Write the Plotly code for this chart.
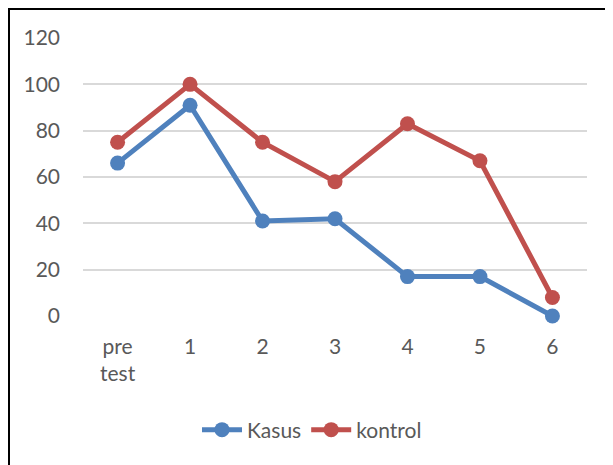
import plotly.graph_objects as go

categories = ["pre<br>test", "1", "2", "3", "4", "5", "6"]
kasus = [66, 91, 41, 42, 17, 17, 0]
kontrol = [75, 100, 75, 58, 83, 67, 8]
y_ticks = [0, 20, 40, 60, 80, 100, 120]

BLUE = "#4F81BD"
RED = "#C0504D"
FONT = "Lato"
TXT = "#595959"
FS = 21

OFF = 8  # page body margin
W, H = 613 - OFF, 465 - OFF
L, R, T, B = 83 - OFF, 587 - OFF, 38 - OFF, 316 - OFF

fig = go.Figure()
fig.add_trace(go.Scatter(x=categories, y=kasus, name="Kasus", mode="lines+markers",
                         cliponaxis=False,
                         line=dict(color=BLUE, width=5), marker=dict(size=15, color=BLUE)))
fig.add_trace(go.Scatter(x=categories, y=kontrol, name="kontrol", mode="lines+markers",
                         cliponaxis=False,
                         line=dict(color=RED, width=5), marker=dict(size=15, color=RED)))

def px_x(p):
    return (p - OFF - L) / (R - L)

def px_y(p):
    return (B - (p - OFF)) / (B - T)

fig.add_shape(type="path", xref="paper", yref="paper",
              path=f"M {px_x(9)},{px_y(480)} L {px_x(9)},{px_y(9)} L {px_x(630)},{px_y(9)}",
              line=dict(color="black", width=2))

fig.update_layout(
    width=W, height=H,
    margin=dict(l=L, r=W - R, t=T, b=H - B, pad=0),
    paper_bgcolor="white", plot_bgcolor="white",
    font=dict(family=FONT, size=FS, color=TXT),
    showlegend=True,
    legend=dict(orientation="h", xref="container", yref="container",
                x=(312 - OFF) / W, y=(H - (430 - OFF)) / H, xanchor="center", yanchor="middle",
                font=dict(family=FONT, size=FS, color=TXT), itemwidth=40),
    xaxis=dict(type="category", showgrid=False, zeroline=False, showline=False,
               ticks="", ticklabelstandoff=16,
               tickfont=dict(family=FONT, size=FS, color=TXT), fixedrange=True),
    yaxis=dict(range=[0, 120], tickvals=y_ticks, showgrid=True, gridcolor="#D9D9D9",
               gridwidth=1.5, zeroline=False, showline=False, ticks="",
               ticklabelstandoff=22,
               tickfont=dict(family=FONT, size=FS, color=TXT)),
)

fig.write_html("out.html")
